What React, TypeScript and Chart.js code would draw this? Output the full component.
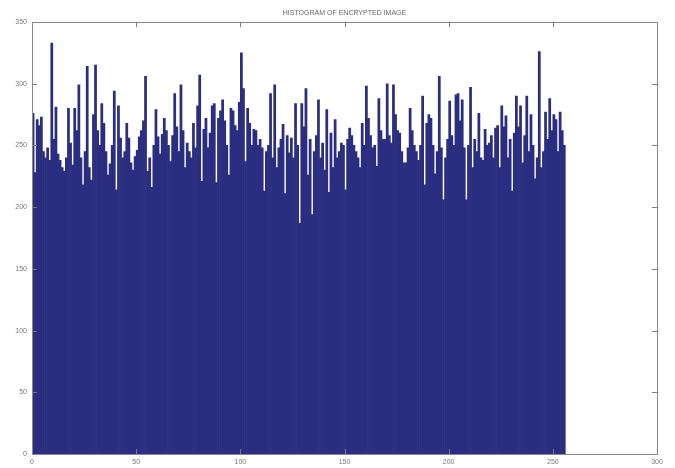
import React, { useEffect, useRef } from "react";
import { Chart, registerables } from "chart.js";

Chart.register(...registerables);

const TITLE = "HISTOGRAM OF ENCRYPTED IMAGE";
const X_TICKS = [0, 50, 100, 150, 200, 250, 300];
const Y_TICKS = [0, 50, 100, 150, 200, 250, 300, 350];

// pixel-intensity histogram counts for levels 0..255
const COUNTS_0_63 = [
  276, 228, 271, 266, 273, 245, 240, 248, 238, 333, 255, 281, 243, 238, 232, 229,
  240, 280, 252, 234, 280, 262, 299, 240, 218, 245, 314, 232, 222, 275, 315, 262,
  250, 284, 268, 245, 226, 235, 250, 294, 214, 282, 256, 240, 245, 268, 256, 236,
  230, 241, 246, 257, 262, 270, 306, 229, 240, 216, 250, 279, 257, 243, 259, 272,
];
const COUNTS_64_127 = [
  262, 250, 237, 258, 292, 265, 245, 299, 262, 232, 252, 245, 240, 268, 248, 282,
  307, 221, 263, 272, 248, 260, 282, 284, 220, 272, 278, 287, 270, 250, 226, 280,
  278, 266, 262, 285, 325, 296, 237, 280, 268, 250, 263, 262, 250, 255, 248, 213,
  245, 250, 292, 240, 299, 232, 248, 255, 267, 211, 258, 244, 256, 240, 284, 250,
];
const COUNTS_128_191 = [
  187, 284, 265, 296, 226, 255, 194, 245, 258, 287, 240, 252, 230, 279, 212, 260,
  232, 271, 240, 245, 252, 250, 214, 255, 264, 258, 250, 245, 240, 232, 268, 250,
  298, 272, 258, 248, 250, 233, 288, 262, 255, 255, 300, 258, 252, 299, 275, 262,
  260, 245, 236, 236, 248, 280, 262, 250, 245, 238, 250, 290, 218, 268, 275, 272,
];
const COUNTS_192_255 = [
  250, 227, 245, 306, 248, 206, 240, 255, 286, 258, 250, 291, 292, 270, 287, 248,
  206, 250, 297, 232, 255, 245, 276, 240, 238, 263, 250, 252, 258, 240, 264, 266,
  232, 282, 265, 274, 240, 255, 213, 260, 290, 265, 282, 236, 258, 290, 245, 275,
  250, 223, 240, 326, 232, 245, 277, 255, 288, 262, 275, 271, 245, 277, 262, 250,
];

const COUNTS = [...COUNTS_0_63, ...COUNTS_64_127, ...COUNTS_128_191, ...COUNTS_192_255];
const LEVELS = COUNTS.map((_, i) => i);

const inwardTicks = {
  id: "inwardTicks",
  afterDraw(chart: any) {
    const { ctx, chartArea: a, scales } = chart;
    const xs = scales.x;
    const ys = scales.y;
    ctx.save();
    ctx.strokeStyle = "#7a7a7a";
    ctx.lineWidth = 1;
    const L = 5;
    X_TICKS.forEach((v) => {
      const px = Math.round(xs.getPixelForValue(v)) + 0.5;
      ctx.beginPath();
      ctx.moveTo(px, a.bottom);
      ctx.lineTo(px, a.bottom - L);
      ctx.moveTo(px, a.top);
      ctx.lineTo(px, a.top + L);
      ctx.stroke();
    });
    Y_TICKS.forEach((v) => {
      const py = Math.round(ys.getPixelForValue(v)) + 0.5;
      ctx.beginPath();
      ctx.moveTo(a.left, py);
      ctx.lineTo(a.left + L, py);
      ctx.moveTo(a.right, py);
      ctx.lineTo(a.right - L, py);
      ctx.stroke();
    });
    ctx.strokeStyle = "#8a8a8a";
    ctx.strokeRect(Math.round(a.left) + 0.5, Math.round(a.top) + 0.5, Math.round(a.right - a.left), Math.round(a.bottom - a.top));
    ctx.restore();
  },
};

export default function App() {
  const ref = useRef<HTMLCanvasElement | null>(null);
  useEffect(() => {
    document.body.style.margin = "0";
    const canvas = ref.current;
    if (!canvas) return;
    const chart = new Chart(canvas, {
      type: "bar",
      data: {
        datasets: [
          {
            data: LEVELS.map((lv, i) => ({ x: lv + 0.5, y: COUNTS[i] })),
            backgroundColor: "#2b2e80",
            borderColor: "#22246a",
            borderWidth: 0,
            barPercentage: 1,
            categoryPercentage: 1,
          },
        ],
      },
      options: {
        responsive: false,
        animation: false,
        layout: { padding: { left: 0, right: 18, top: 0, bottom: 0 } },
        plugins: {
          legend: { display: false },
          tooltip: { enabled: false },
          title: {
            display: true,
            text: TITLE,
            fullSize: false,
            color: "#666",
            font: { family: "Liberation Sans", size: 7, weight: "normal" },
            padding: { top: 9, bottom: 4.6 },
          },
        },
        scales: {
          x: {
            type: "linear",
            min: 0,
            max: 300,
            offset: false,
            afterBuildTicks: (s: any) => {
              s.ticks = X_TICKS.map((v) => ({ value: v }));
            },
            afterFit: (s: any) => {
              s.height = 14;
            },
            grid: { display: false, drawTicks: false, offset: false },
            border: { display: false },
            ticks: {
              color: "#777",
              font: { family: "Liberation Sans", size: 7 },
              padding: 4,
              maxRotation: 0,
              autoSkip: false,
            },
          },
          y: {
            type: "linear",
            min: 0,
            max: 350,
            afterBuildTicks: (s: any) => {
              s.ticks = Y_TICKS.map((v) => ({ value: v }));
            },
            afterFit: (s: any) => {
              s.width = 32;
            },
            grid: { display: false, drawTicks: false },
            border: { display: false },
            ticks: {
              color: "#777",
              font: { family: "Liberation Sans", size: 7 },
              padding: 5,
              autoSkip: false,
            },
          },
        },
      },
      plugins: [inwardTicks],
    } as any);
    return () => chart.destroy();
  }, []);
  return (
    <div style={{ position: "absolute", left: 0, top: 0, width: 675, height: 468, background: "#fff" }}>
      <canvas ref={ref} width={675} height={468} />
    </div>
  );
}
